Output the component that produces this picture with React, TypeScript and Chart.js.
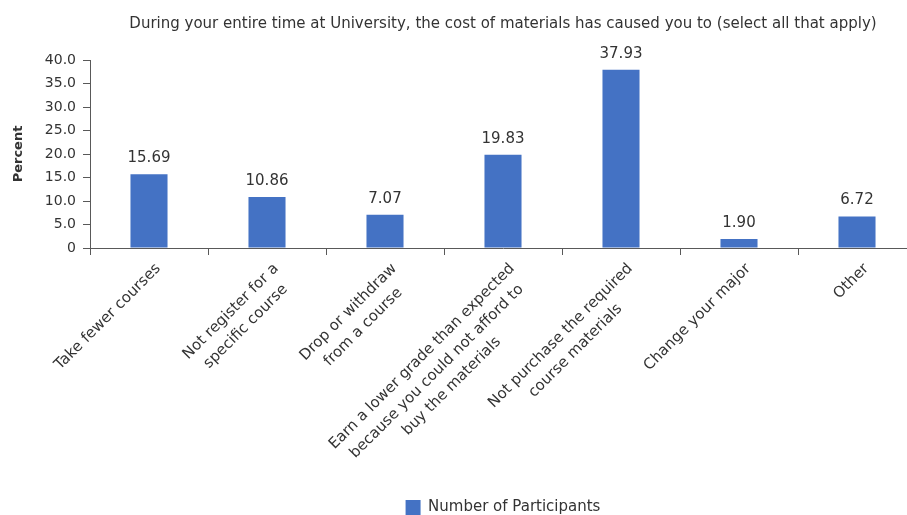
import { useEffect, useRef } from "react";
import { Chart, registerables } from "chart.js";

Chart.register(...registerables);

const TITLE =
  "During your entire time at University, the cost of materials has caused you to (select all that apply)";
const CATEGORIES: string[][] = [
  ["Take fewer courses"],
  ["Not register for a", "specific course"],
  ["Drop or withdraw", "from a course"],
  ["Earn a lower grade than expected", "because you could not afford to", "buy the materials"],
  ["Not purchase the required", "course materials"],
  ["Change your major"],
  ["Other"],
];
const SERIES_NAME = "Number of Participants";
const VALUES = [15.69, 10.86, 7.07, 19.83, 37.93, 1.9, 6.72];
const Y_MIN = 0;
const Y_MAX = 40;
const Y_STEP = 5;
const Y_TITLE = "Percent";

const FONT = "'DejaVu Sans', sans-serif";
const TEXT = "#333333";
const AXIS = "#595959";
const BAR = "#4472C4";

const W = 920;
const H = 525;

const labelPlugin = {
  id: "customLabels",
  afterDatasetsDraw(chart: any) {
    const ctx = chart.ctx as CanvasRenderingContext2D;
    const meta = chart.getDatasetMeta(0);
    ctx.save();
    ctx.fillStyle = TEXT;
    ctx.font = `15px ${FONT}`;
    ctx.textAlign = "center";
    ctx.textBaseline = "alphabetic";
    meta.data.forEach((bar: any, i: number) => {
      ctx.fillText(VALUES[i].toFixed(2), bar.x, bar.y - 12);
    });
    const xs = chart.scales.x;
    const bottom = chart.chartArea.bottom;
    ctx.font = `15px ${FONT}`;
    ctx.textBaseline = "top";
    CATEGORIES.forEach((lines, i) => {
      const x = xs.getPixelForValue(i);
      const w = Math.max(...lines.map((l) => ctx.measureText(l).width));
      ctx.save();
      ctx.translate(x + 4, bottom + 13);
      ctx.rotate(-Math.PI / 4);
      lines.forEach((l, j) => ctx.fillText(l, -w / 2, j * 21));
      ctx.restore();
    });
    ctx.restore();
  },
};

export default function App() {
  const ref = useRef<HTMLCanvasElement>(null);
  useEffect(() => {
    document.body.style.overflow = "hidden";
    const chart = new Chart(ref.current!, {
      type: "bar",
      data: {
        labels: CATEGORIES,
        datasets: [
          {
            label: SERIES_NAME,
            data: VALUES,
            backgroundColor: BAR,
            borderWidth: 0,
            barPercentage: 0.314,
            categoryPercentage: 1,
          },
        ],
      },
      options: {
        responsive: false,
        animation: false,
        devicePixelRatio: 1,
        layout: { padding: { left: 0, right: 4, top: 0, bottom: 0 } },
        plugins: {
          title: {
            display: true,
            text: TITLE,
            fullSize: false,
            color: TEXT,
            font: { family: FONT, size: 15, weight: "normal" },
            padding: { top: 15, bottom: 27 },
          },
          legend: {
            display: true,
            position: "bottom",
            fullSize: false,
            labels: {
              color: TEXT,
              font: { family: FONT, size: 15 },
              boxWidth: 15,
              boxHeight: 15,
              padding: 10,
            },
          },
          tooltip: { enabled: false },
        },
        scales: {
          x: {
            offset: true,
            grid: {
              offset: true,
              drawOnChartArea: false,
              drawTicks: true,
              tickLength: 7,
              color: AXIS,
            },
            border: { display: true, color: AXIS, width: 1 },
            ticks: { display: false },
            afterFit(scale: any) {
              scale.height = 242;
            },
          },
          y: {
            min: Y_MIN,
            max: Y_MAX,
            ticks: {
              stepSize: Y_STEP,
              color: TEXT,
              font: { family: FONT, size: 14 },
              padding: 7,
              callback: (v: any) => (Number(v) === 0 ? "0" : Number(v).toFixed(1)),
            },
            grid: {
              drawOnChartArea: false,
              drawTicks: true,
              tickLength: 7,
              color: AXIS,
            },
            border: { display: true, color: AXIS, width: 1 },
            title: {
              display: true,
              text: Y_TITLE,
              color: TEXT,
              font: { family: FONT, size: 13, weight: "bold" },
              padding: { top: 11, bottom: 0 },
            },
            afterFit(scale: any) {
              scale.width = 90;
            },
          },
        },
      },
      plugins: [labelPlugin],
    });
    return () => chart.destroy();
  }, []);
  return (
    <div style={{ position: "fixed", left: 0, top: 0, width: W, height: H }}>
      <canvas ref={ref} width={W} height={H} style={{ width: W, height: H, display: "block" }} />
    </div>
  );
}
